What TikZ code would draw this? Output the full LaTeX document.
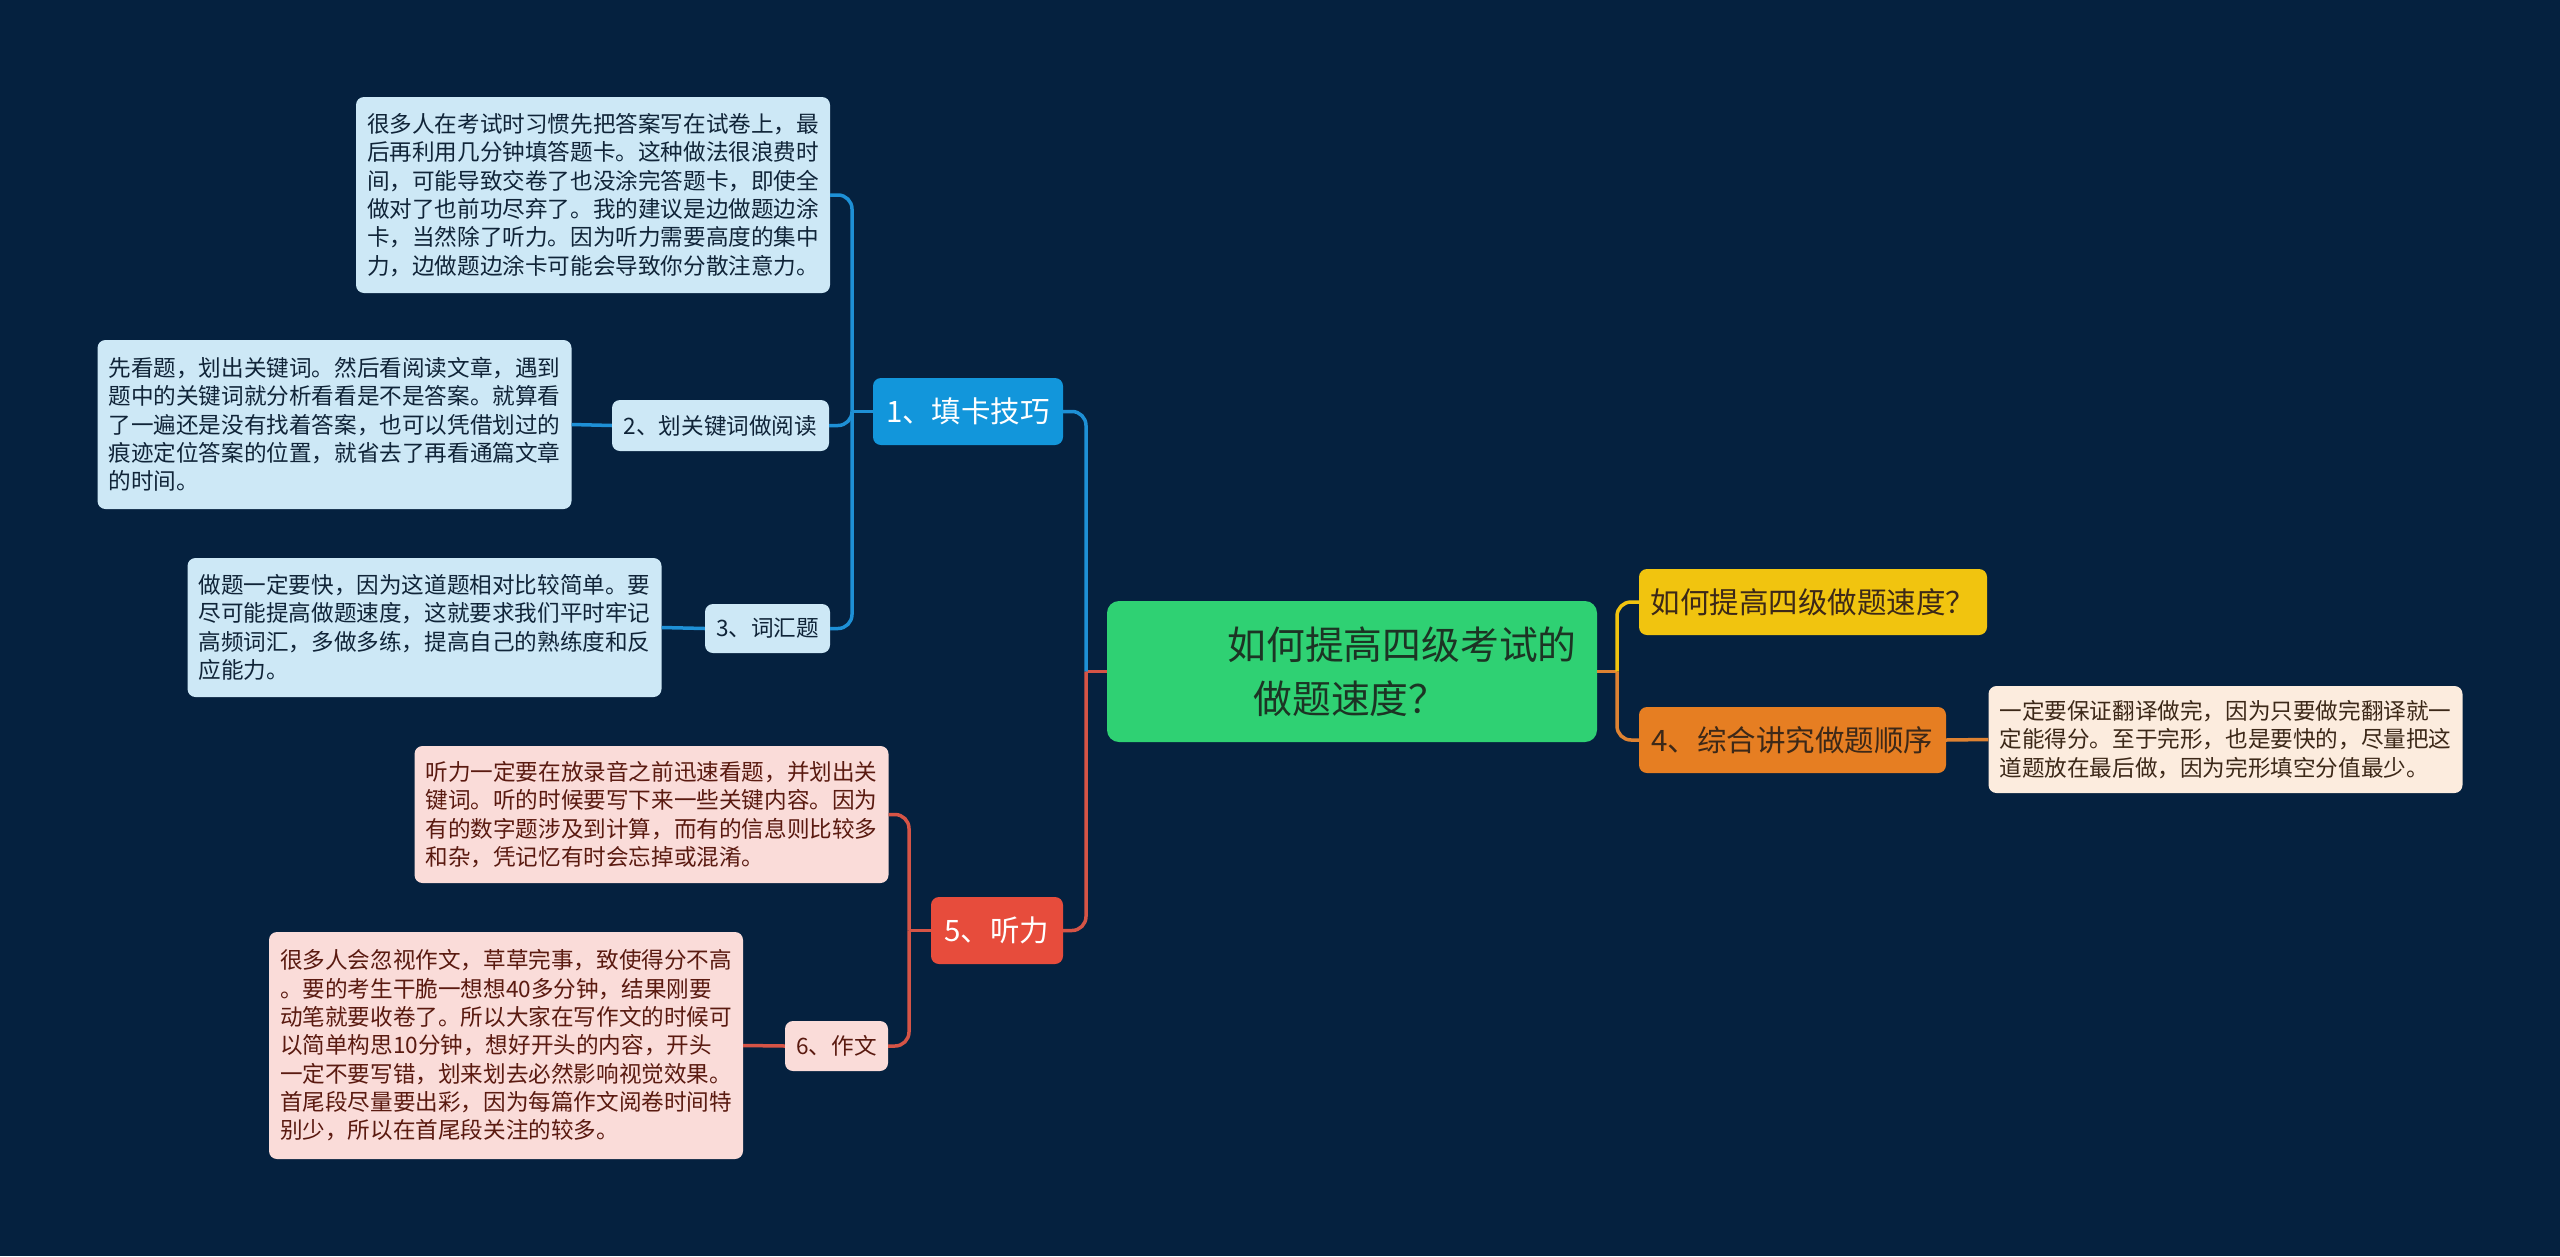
\documentclass[tikz,border=0pt]{standalone}
\usepackage{fontspec}
\setmainfont{Noto Sans CJK SC}

\definecolor{bg}{RGB}{5,33,63}
\definecolor{rootgreen}{RGB}{47,209,115}
\definecolor{roottext}{RGB}{28,52,36}
\definecolor{gelb}{RGB}{241,196,15}
\definecolor{orange}{RGB}{230,126,34}
\definecolor{blau}{RGB}{18,150,219}
\definecolor{hellblau}{RGB}{205,232,246}
\definecolor{rot}{RGB}{231,76,60}
\definecolor{rosa}{RGB}{250,220,217}
\definecolor{creme}{RGB}{252,236,222}
\definecolor{blautext}{RGB}{16,36,56}
\definecolor{rottext}{RGB}{90,26,16}
\definecolor{braun}{RGB}{60,40,24}
\definecolor{linieblau}{RGB}{30,144,214}
\definecolor{linierot}{RGB}{214,84,70}
\definecolor{linieorange}{RGB}{222,130,50}

\tikzset{
	box/.style={rectangle, rounded corners=8pt, inner sep=0pt, align=left},
	klein/.style={font=\fontsize{22.6}{28.3}\selectfont},
	gross/.style={font=\fontsize{29.5}{36}\selectfont},
	detail/.style={box, klein, minimum width=474pt},
	blaudet/.style={detail, fill=hellblau, text=blautext},
	rotdet/.style={detail, fill=rosa, text=rottext},
	ast/.style={box, gross, minimum height=67pt, text=white},
	linie/.style={line width=3.5pt, rounded corners=14pt},
}

\begin{document}
\begin{tikzpicture}[x=1pt,y=-1pt]
	%Hintergrund
	\fill[bg] (0,0) rectangle (2560,1256);

	%Hauptknoten
	\node[box, rounded corners=12pt, fill=rootgreen, text=roottext, minimum width=490pt, minimum height=141pt,
		font=\fontsize{38.8}{54}\selectfont] (root) at (1352,671.5)
		{\hspace*{100pt}如何提高四级考试的\\\hspace*{126pt}做题速度？};

	%rechts
	\node[box, gross, fill=gelb, text=braun, minimum width=348pt, minimum height=66pt] (frage) at (1813,602) {如何提高四级做题速度？};
	\node[box, gross, fill=orange, text=braun, minimum width=307pt, minimum height=66pt] (b4) at (1792.5,740) {4、综合讲究做题顺序};
	\node[detail, fill=creme, text=braun, minimum height=107pt] (d4) at (2225.5,739.5)
		{一定要保证翻译做完，因为只要做完翻译就一\\定能得分。至于完形，也是要快的，尽量把这\\道题放在最后做，因为完形填空分值最少。};

	%links oben
	\node[ast, fill=blau, minimum width=190pt] (b1) at (968,411.5) {1、填卡技巧};
	\node[blaudet, minimum height=196pt] (d1) at (593,195)
		{很多人在考试时习惯先把答案写在试卷上，最\\后再利用几分钟填答题卡。这种做法很浪费时\\间，可能导致交卷了也没涂完答题卡，即使全\\做对了也前功尽弃了。我的建议是边做题边涂\\卡，当然除了听力。因为听力需要高度的集中\\力，边做题边涂卡可能会导致你分散注意力。};
	\node[box, klein, fill=hellblau, text=blautext, minimum width=217pt, minimum height=51pt] (b2) at (720.5,425.5) {2、划关键词做阅读};
	\node[blaudet, minimum height=169pt] (d2) at (334.5,424.5)
		{先看题，划出关键词。然后看阅读文章，遇到\\题中的关键词就分析看看是不是答案。就算看\\了一遍还是没有找着答案，也可以凭借划过的\\痕迹定位答案的位置，就省去了再看通篇文章\\的时间。};
	\node[box, klein, fill=hellblau, text=blautext, minimum width=125pt, minimum height=49pt] (b3) at (767.5,628.5) {3、词汇题};
	\node[blaudet, minimum height=139pt] (d3) at (424.5,627.5)
		{做题一定要快，因为这道题相对比较简单。要\\尽可能提高做题速度，这就要求我们平时牢记\\高频词汇，多做多练，提高自己的熟练度和反\\应能力。};

	%links unten
	\node[ast, fill=rot, minimum width=132pt] (b5) at (997,930.5) {5、听力};
	\node[rotdet, minimum height=137pt] (d5) at (651.5,814.5)
		{听力一定要在放录音之前迅速看题，并划出关\\键词。听的时候要写下来一些关键内容。因为\\有的数字题涉及到计算，而有的信息则比较多\\和杂，凭记忆有时会忘掉或混淆。};
	\node[box, klein, fill=rosa, text=rottext, minimum width=103pt, minimum height=50pt] (b6) at (836.5,1046) {6、作文};
	\node[rotdet, minimum height=227pt] (d6) at (506,1045.5)
		{很多人会忽视作文，草草完事，致使得分不高\\。要的考生干脆一想想40多分钟，结果刚要\\动笔就要收卷了。所以大家在写作文的时候可\\以简单构思10分钟，想好开头的内容，开头\\一定不要写错，划来划去必然影响视觉效果。\\首尾段尽量要出彩，因为每篇作文阅卷时间特\\别少，所以在首尾段关注的较多。};

	%Verzweigungen
	\coordinate (jl) at (1086,671.5);
	\coordinate (jr) at (1617,671.5);
	\coordinate (j1) at (852,411.5);
	\coordinate (j5) at (909,930.5);

	%Verbindungen rechts
	\draw[linie, linieorange] (root.east) -- (jr);
	\draw[linie, gelb] (jr) |- (frage.west);
	\draw[linie, linieorange] (jr) |- (b4.west);
	\draw[linie, linieorange] (b4.east) -- (d4.west);

	%Verbindungen links
	\draw[linie, linierot] (root.west) -- (jl);
	\draw[linie, linieblau] (jl) |- (b1.east);
	\draw[linie, linierot] (jl) |- (b5.east);

	\draw[linie, linieblau] (b1.west) -- (j1);
	\draw[linie, linieblau] (j1) |- (d1.east);
	\draw[linie, linieblau] (j1) |- (b2.east);
	\draw[linie, linieblau] (j1) |- (b3.east);
	\draw[linie, linieblau] (b2.west) -- (d2.east);
	\draw[linie, linieblau] (b3.west) -- (d3.east);

	\draw[linie, linierot] (b5.west) -- (j5);
	\draw[linie, linierot] (j5) |- (d5.east);
	\draw[linie, linierot] (j5) |- (b6.east);
	\draw[linie, linierot] (b6.west) -- (d6.east);
\end{tikzpicture}
\end{document}
